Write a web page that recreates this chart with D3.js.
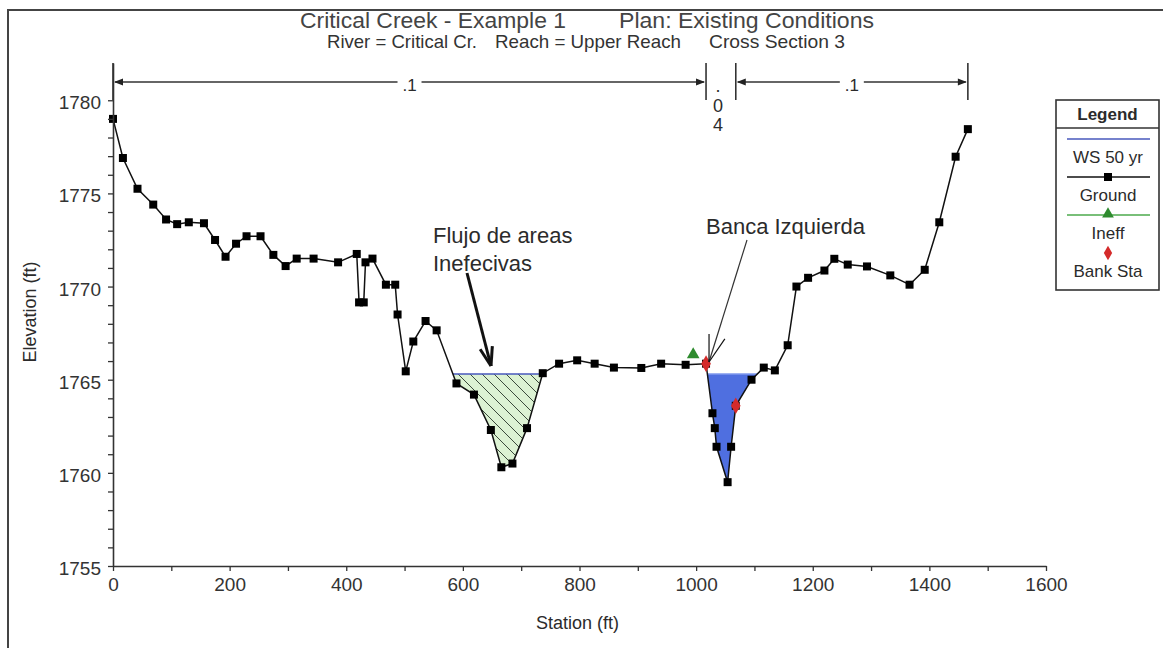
<!DOCTYPE html>
<html>
<head>
<meta charset="utf-8">
<title>Critical Creek - Cross Section 3</title>
<script src="https://cdn.jsdelivr.net/npm/d3@7"></script>
<style>
  body { margin: 0; background: #fff; }
  svg text { font-family: "Liberation Sans", Arial, sans-serif; fill: #2b2b2b; }
</style>
</head>
<body>
<div id="chart"></div>
<script>
/************************ DATA **********************************************/
// ground profile, station (ft) and elevation (ft)
var stations = [0, 17, 42, 69, 91, 110, 130, 156, 175, 193, 211, 229, 253, 275, 296, 315, 344, 386,
  418, 422, 430, 433, 445, 468, 484, 488, 502, 515, 536, 555, 589, 619, 648, 666, 685, 710, 737,
  765, 796, 826, 859, 906, 940, 982, 1017, 1028, 1032, 1035, 1054, 1060, 1068, 1095, 1116, 1135,
  1157, 1172, 1192, 1220, 1237, 1260, 1293, 1333, 1366, 1392, 1417, 1445, 1466];
var elevations = [1779.0, 1776.9, 1775.25, 1774.4, 1773.6, 1773.35, 1773.45, 1773.4, 1772.5, 1771.6,
  1772.3, 1772.7, 1772.7, 1771.7, 1771.1, 1771.5, 1771.5, 1771.3, 1771.75, 1769.15, 1769.15, 1771.3,
  1771.5, 1770.1, 1770.1, 1768.5, 1765.45, 1767.05, 1768.15, 1767.65, 1764.8, 1764.2, 1762.3, 1760.3,
  1760.5, 1762.4, 1765.35, 1765.86, 1766.04, 1765.86, 1765.65, 1765.63, 1765.86, 1765.8, 1765.86,
  1763.2, 1762.4, 1761.4, 1759.5, 1761.4, 1763.6, 1765.0, 1765.65, 1765.5, 1766.85, 1770.0, 1770.47,
  1770.86, 1771.49, 1771.18, 1771.08, 1770.6, 1770.1, 1770.9, 1773.45, 1776.97, 1778.45];

var wsElev = 1765.3;                 // WS 50 yr
var bankStations = [1017, 1068];
var bankElevations = [1765.86, 1763.6];
var ineffStations = [995];
var ineffElevations = [1766.3];

// manning's n regions along the top
var nStations = [0, 1017, 1068, 1466];
var nValues = [".1", ".04", ".1"];

var xTicks = [0, 200, 400, 600, 800, 1000, 1200, 1400, 1600];
var yTicks = [1755, 1760, 1765, 1770, 1775, 1780];

var titleParts = ["Critical Creek - Example 1", "Plan: Existing Conditions"];
var subtitleParts = ["River = Critical Cr.", "Reach = Upper Reach", "Cross Section 3"];
var legendNames = ["WS 50 yr", "Ground", "Ineff", "Bank Sta"];

/************************ SETUP **********************************************/
var W = 1163, H = 648;
var BLUE = "#4f6fe0", WSLINE = "#4858bd", GREEN = "#2e8b2e", RED = "#d42a2a";

var svg = d3.select("#chart").append("svg")
  .attr("width", W)
  .attr("height", H);

svg.append("rect").attr("width", W).attr("height", H).attr("fill", "#fff");

var x = d3.scaleLinear().domain([0, 1600]).range([113, 1046]);
var y = d3.scaleLinear().domain([1755, 1782]).range([566, 63]);

var defs = svg.append("defs");
var hatch = defs.append("pattern")
  .attr("id", "hatch")
  .attr("patternUnits", "userSpaceOnUse")
  .attr("width", 12).attr("height", 12);
hatch.append("rect").attr("width", 12).attr("height", 12).attr("fill", "#dcf2d3");
hatch.append("path")
  .attr("d", "M0,0L12,12M-3,9L3,15M9,-3L15,3")
  .attr("stroke", "#3b4a3b").attr("stroke-width", 1);

// outer frame (left and top edges visible)
svg.append("path")
  .attr("d", "M8," + H + "L8,10L" + W + ",10")
  .attr("fill", "none").attr("stroke", "#444").attr("stroke-width", 2);

/************************ WATER **********************************************/
// split the ground line into pieces that sit below the water surface
function wetted(st, el, ws) {
  var polys = [], cur = null;
  function cross(a, b) {
    var t = (ws - el[a]) / (el[b] - el[a]);
    return [st[a] + t * (st[b] - st[a]), ws];
  }
  for (var i = 0; i < st.length; i++) {
    if (el[i] < ws) {
      if (!cur) { cur = []; if (i > 0) cur.push(cross(i - 1, i)); }
      cur.push([st[i], el[i]]);
    } else if (cur) {
      cur.push(cross(i - 1, i));
      polys.push(cur);
      cur = null;
    }
  }
  if (cur) polys.push(cur);
  return polys;
}

var pieces = wetted(stations, elevations, wsElev);
var line = d3.line().x(function(d){ return x(d[0]); }).y(function(d){ return y(d[1]); });

svg.append("g").selectAll("path")
  .data(pieces)
  .join("path")
  .attr("d", function(d){ return line(d) + "Z"; })
  .attr("fill", function(d){ return d[0][0] < bankStations[0] ? "url(#hatch)" : BLUE; })
  .attr("stroke", "none");

svg.append("g").selectAll("line")
  .data(pieces)
  .join("line")
  .attr("x1", function(d){ return x(d[0][0]); })
  .attr("x2", function(d){ return x(d[d.length - 1][0]); })
  .attr("y1", y(wsElev)).attr("y2", y(wsElev))
  .attr("stroke", function(d){ return d[0][0] < bankStations[0] ? WSLINE : "#7f98ee"; })
  .attr("stroke-width", 1.5);

/************************ GROUND **********************************************/
var ground = d3.zip(stations, elevations);

svg.append("path")
  .datum(ground)
  .attr("d", line)
  .attr("fill", "none")
  .attr("stroke", "#111")
  .attr("stroke-width", 1.5);

svg.append("g").selectAll("rect")
  .data(ground)
  .join("rect")
  .attr("x", function(d){ return x(d[0]) - 4; })
  .attr("y", function(d){ return y(d[1]) - 4; })
  .attr("width", 8).attr("height", 8)
  .attr("fill", "#000");

svg.append("g").selectAll("path")
  .data(d3.zip(ineffStations, ineffElevations))
  .join("path")
  .attr("transform", function(d){ return "translate(" + x(d[0]) + "," + (y(d[1]) - 1) + ")"; })
  .attr("d", d3.symbol(d3.symbolTriangle, 70))
  .attr("fill", GREEN);

svg.append("g").selectAll("path")
  .data(d3.zip(bankStations, bankElevations))
  .join("path")
  .attr("transform", function(d){ return "translate(" + x(d[0]) + "," + y(d[1]) + ")"; })
  .attr("d", d3.symbol(d3.symbolDiamond, 80))
  .attr("fill", RED);

/************************ AXES **********************************************/
var xAxis = svg.append("g")
  .attr("transform", "translate(0," + y(1755) + ")")
  .call(d3.axisBottom(x)
    .tickValues(d3.range(0, 1601, 100))
    .tickFormat(function(d){ return xTicks.indexOf(d) >= 0 ? d : ""; })
    .tickSize(5).tickSizeOuter(0).tickPadding(7));

var yAxis = svg.append("g")
  .attr("transform", "translate(" + x(0) + ",0)")
  .call(d3.axisLeft(y)
    .tickValues(d3.range(1755, 1781, 1))
    .tickFormat(function(d){ return yTicks.indexOf(d) >= 0 ? d : ""; })
    .tickSize(5).tickSizeOuter(0).tickPadding(7));

[xAxis, yAxis].forEach(function(g){
  g.select(".domain").attr("stroke", "#333").attr("stroke-width", 1.6);
  g.selectAll(".tick line").attr("stroke", "#333").attr("stroke-width", 1.3);
  g.selectAll(".tick text").attr("font-size", 19).style("fill", "#333");
});
yAxis.selectAll(".tick text").attr("dy", "0.45em");

svg.append("text")
  .attr("x", (x(0) + x(1600)) / 2 - 2).attr("y", 629)
  .attr("text-anchor", "middle").attr("font-size", 18)
  .text("Station (ft)");

svg.append("text")
  .attr("transform", "translate(36," + 312 + ")rotate(-90)")
  .attr("text-anchor", "middle").attr("font-size", 18)
  .text("Elevation (ft)");

/************************ TITLE **********************************************/
var titleX = [300, 619], titleLen = [266, 255];
svg.append("g").selectAll("text")
  .data(titleParts)
  .join("text")
  .attr("x", function(d, i){ return titleX[i]; })
  .attr("y", 28)
  .attr("font-size", 22)
  .attr("textLength", function(d, i){ return titleLen[i]; })
  .attr("lengthAdjust", "spacingAndGlyphs")
  .style("fill", "#444")
  .text(function(d){ return d; });

var subX = [327, 495, 709], subLen = [150, 186, 136];
svg.append("g").selectAll("text")
  .data(subtitleParts)
  .join("text")
  .attr("x", function(d, i){ return subX[i]; })
  .attr("y", 48)
  .attr("font-size", 18.5)
  .attr("textLength", function(d, i){ return subLen[i]; })
  .attr("lengthAdjust", "spacingAndGlyphs")
  .style("fill", "#333")
  .text(function(d){ return d; });

/************************ MANNING N **********************************************/
var nY = 82;
var nTop = y(1782), nBot = 100;
svg.append("g").selectAll("line")
  .data(nStations)
  .join("line")
  .attr("x1", function(d){ return x(d); }).attr("x2", function(d){ return x(d); })
  .attr("y1", nTop).attr("y2", nBot)
  .attr("stroke", "#333").attr("stroke-width", 1.6);

var nSeg = svg.append("g").selectAll("g")
  .data(nValues.map(function(v, i){ return {v: v, a: x(nStations[i]), b: x(nStations[i + 1])}; }))
  .join("g");

nSeg.filter(function(d){ return d.b - d.a > 60; }).each(function(d){
  var g = d3.select(this), mid = (d.a + d.b) / 2;
  g.append("line")
    .attr("x1", d.a + 2).attr("x2", d.b - 2).attr("y1", nY).attr("y2", nY)
    .attr("stroke", "#333").attr("stroke-width", 1.3);
  g.append("path")
    .attr("d", "M" + (d.a + 1) + "," + nY + "l9,-3.5v7Z M" + (d.b - 1) + "," + nY + "l-9,-3.5v7Z")
    .attr("fill", "#222");
  g.append("rect")
    .attr("x", mid - 12).attr("y", nY - 8).attr("width", 24).attr("height", 16)
    .attr("fill", "#fff");
  g.append("text")
    .attr("x", mid).attr("y", nY + 9)
    .attr("text-anchor", "middle").attr("font-size", 17)
    .text(d.v);
});

nSeg.filter(function(d){ return d.b - d.a <= 60; }).each(function(d){
  var t = d3.select(this).append("text")
    .attr("text-anchor", "middle").attr("font-size", 18);
  d.v.split("").forEach(function(c, i){
    t.append("tspan")
      .attr("x", (d.a + d.b) / 2 - 3)
      .attr("y", 92 + i * 19.5)
      .text(c);
  });
});

/************************ ANNOTATIONS **********************************************/
function arrowHead(g, x0, y0, x1, y1, len, ang, w) {
  var a = Math.atan2(y0 - y1, x0 - x1);
  [-ang, ang].forEach(function(s){
    g.append("line")
      .attr("x1", x1).attr("y1", y1)
      .attr("x2", x1 + len * Math.cos(a + s)).attr("y2", y1 + len * Math.sin(a + s))
      .attr("stroke", "#111").attr("stroke-width", w);
  });
}

var ann = svg.append("g");
ann.append("text").attr("x", 433).attr("y", 243).attr("font-size", 22).text("Flujo de areas");
ann.append("text").attr("x", 433).attr("y", 271).attr("font-size", 22).text("Inefecivas");
ann.append("line")
  .attr("x1", 467).attr("y1", 273).attr("x2", 491).attr("y2", 366)
  .attr("stroke", "#111").attr("stroke-width", 3);
arrowHead(ann, 467, 273, 491, 366, 20, 0.32, 3);

ann.append("text").attr("x", 706).attr("y", 234).attr("font-size", 22).text("Banca Izquierda");
ann.append("line")
  .attr("x1", 747).attr("y1", 240).attr("x2", 709).attr("y2", 362)
  .attr("stroke", "#333").attr("stroke-width", 1.2);
arrowHead(ann, 747, 240, 709, 362, 28, 0.3, 1.2);

/************************ LEGEND **********************************************/
var lg = svg.append("g").attr("transform", "translate(1056,100)");
lg.append("rect")
  .attr("width", 103).attr("height", 190)
  .attr("fill", "#fff").attr("stroke", "#333").attr("stroke-width", 1.6);
lg.append("line").attr("x1", 0).attr("x2", 103).attr("y1", 28).attr("y2", 28)
  .attr("stroke", "#333").attr("stroke-width", 1.4);
lg.append("text")
  .attr("x", 51.5).attr("y", 20)
  .attr("text-anchor", "middle").attr("font-size", 17).attr("font-weight", "bold")
  .text("Legend");

var item = lg.selectAll("g.item")
  .data(legendNames)
  .join("g")
  .attr("class", "item")
  .attr("transform", function(d, i){ return "translate(0," + (39 + i * 38) + ")"; });

item.append("text")
  .attr("x", 52).attr("y", 24)
  .attr("text-anchor", "middle").attr("font-size", 17)
  .text(function(d){ return d; });

item.filter(function(d, i){ return i < 3; }).append("line")
  .attr("x1", 11).attr("x2", 94)
  .attr("stroke", function(d, i){ return [WSLINE, "#111", "#4caa4c"][i]; })
  .attr("stroke-width", 1.6);

item.filter(function(d, i){ return i === 1; }).append("rect")
  .attr("x", 48).attr("y", -4).attr("width", 8).attr("height", 8).attr("fill", "#000");
item.filter(function(d, i){ return i === 2; }).append("path")
  .attr("transform", "translate(52,-1)")
  .attr("d", d3.symbol(d3.symbolTriangle, 60)).attr("fill", GREEN);
item.filter(function(d, i){ return i === 3; }).append("path")
  .attr("transform", "translate(52,0)")
  .attr("d", d3.symbol(d3.symbolDiamond, 60)).attr("fill", RED);
</script>
</body>
</html>
